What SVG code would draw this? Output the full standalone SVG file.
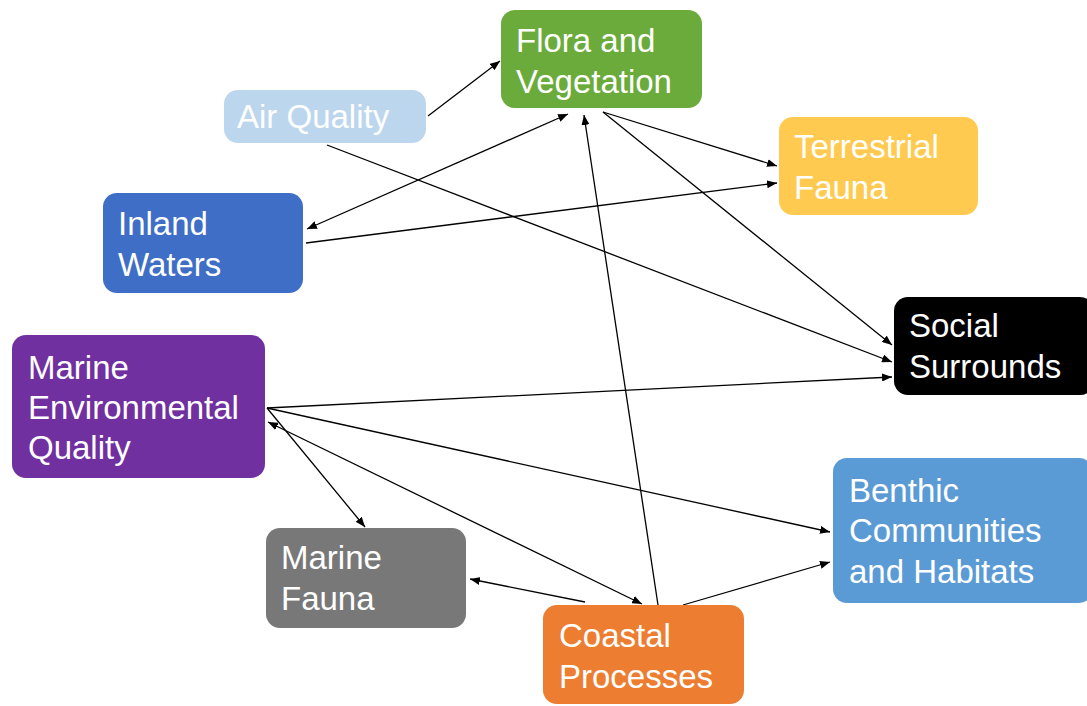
<svg xmlns="http://www.w3.org/2000/svg" width="1087" height="706" viewBox="0 0 1087 706">
<style>
.n rect{rx:14px;ry:14px}
.n text{font-family:"Liberation Sans",Arial,sans-serif;font-size:33px;fill:#fff}
.c path{fill:none;stroke:#000;stroke-width:1.3}
</style>
<defs>
<marker id="ah" viewBox="0 0 10 8" refX="10" refY="4" markerWidth="10" markerHeight="8" markerUnits="userSpaceOnUse" orient="auto-start-reverse">
<path d="M0,0 L10,4 L0,8 z" fill="#000"/>
</marker>
</defs>
<rect width="1087" height="706" fill="#fff"/>
<g id="connectors" class="c">
<path d="M428,116 L500,61" marker-end="url(#ah)"/>
<path d="M307,229 L568,114" marker-start="url(#ah)" marker-end="url(#ah)"/>
<path d="M327,145 L892,362" marker-end="url(#ah)"/>
<path d="M603,112 L777,166" marker-end="url(#ah)"/>
<path d="M603,112 L892,345" marker-end="url(#ah)"/>
<path d="M306,243 L777,183" marker-end="url(#ah)"/>
<path d="M267,408 L892,377" marker-end="url(#ah)"/>
<path d="M267,408 L830,532" marker-end="url(#ah)"/>
<path d="M267,408 L365,527" marker-end="url(#ah)"/>
<path d="M268,422 L642,604" marker-start="url(#ah)" marker-end="url(#ah)"/>
<path d="M585,602 L470,579" marker-end="url(#ah)"/>
<path d="M658,605 L584,115" marker-end="url(#ah)"/>
<path d="M683,605 L830,562" marker-end="url(#ah)"/>
</g>
<g id="flora" class="n"><rect x="501" y="10" width="201" height="98" fill="#6AAB3C"/><text x="516" y="52">Flora and</text><text x="516" y="93">Vegetation</text></g>
<g id="air" class="n"><rect x="224" y="90" width="202" height="53" fill="#BCD6EE"/><text x="237" y="128">Air Quality</text></g>
<g id="terrestrial" class="n"><rect x="779" y="117" width="199" height="98" fill="#FFCA4F"/><text x="794" y="158">Terrestrial</text><text x="794" y="199">Fauna</text></g>
<g id="inland" class="n"><rect x="103" y="193" width="200" height="100" fill="#3E6EC6"/><text x="118" y="235">Inland</text><text x="118" y="276">Waters</text></g>
<g id="social" class="n"><rect x="894" y="297" width="200" height="98" fill="#000"/><text x="909" y="337">Social</text><text x="909" y="378">Surrounds</text></g>
<g id="marineenv" class="n"><rect x="12" y="335" width="253" height="143" fill="#7030A0"/><text x="28" y="379">Marine</text><text x="28" y="419">Environmental</text><text x="28" y="459">Quality</text></g>
<g id="benthic" class="n"><rect x="833" y="458" width="260" height="145" fill="#5B9BD5"/><text x="849" y="502">Benthic</text><text x="849" y="542">Communities</text><text x="849" y="583">and Habitats</text></g>
<g id="marinefauna" class="n"><rect x="266" y="528" width="200" height="100" fill="#787878"/><text x="281" y="569">Marine</text><text x="281" y="610">Fauna</text></g>
<g id="coastal" class="n"><rect x="543" y="605" width="201" height="99" fill="#ED7D31"/><text x="559" y="647">Coastal</text><text x="559" y="688">Processes</text></g>
</svg>
